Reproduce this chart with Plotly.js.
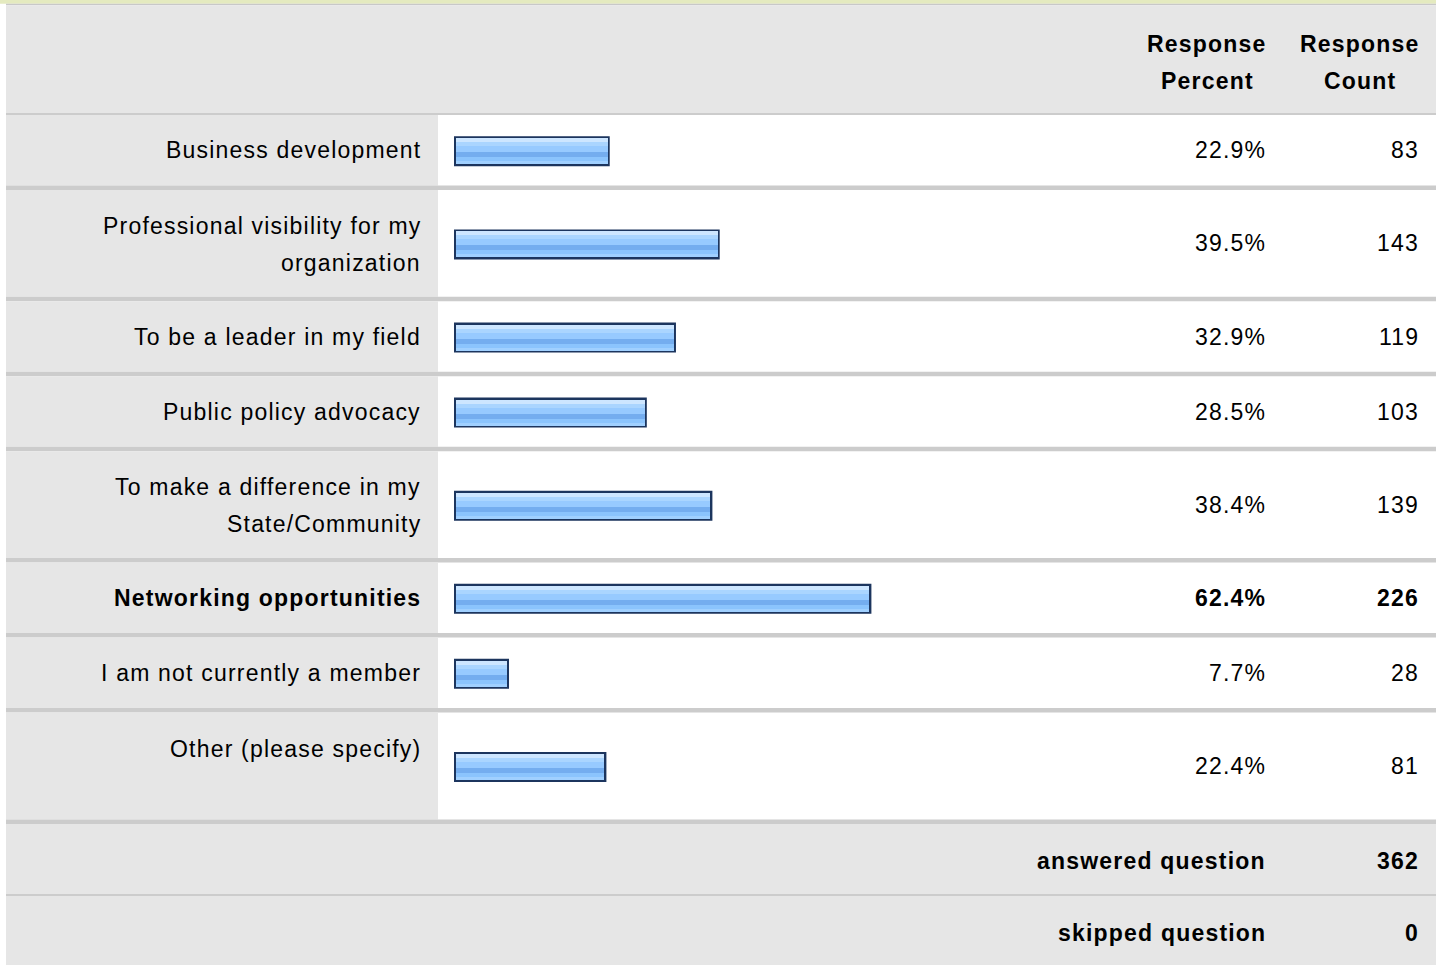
<!DOCTYPE html>
<html>
<head>
<meta charset="utf-8">
<script src="https://cdn.plot.ly/plotly-3.0.1.min.js"></script>
<style>
  html, body { margin: 0; padding: 0; background: #ffffff; }
  #chart { width: 1442px; height: 965px; }
  .annotation-text { letter-spacing: 1.2px; }
</style>
</head>
<body>
<div id="chart"></div>
<script>
// Survey answers: one row per choice
const answerLabels = [
  "Business development",
  "Professional visibility for my<br>organization",
  "To be a leader in my field",
  "Public policy advocacy",
  "To make a difference in my<br>State/Community",
  "Networking opportunities",
  "I am not currently a member",
  "Other (please specify)"
];
const responsePercent = [22.9, 39.5, 32.9, 28.5, 38.4, 62.4, 7.7, 22.4];
const responseCount = [83, 143, 119, 103, 139, 226, 28, 81];
const answeredQuestion = 362;
const skippedQuestion = 0;
const columnHeaders = [["Response", "Percent"], ["Response", "Count"]];
const footerLabels = ["answered question", "skipped question"];

// ---- table geometry (page pixels) ----
const W = 1442, H = 965;
const TABLE_L = 6, TABLE_R = 1436, LABEL_R = 438;
const rowSpan = [1, 2, 1, 1, 2, 1, 1, 2];     // rows that are two text lines tall
const ONE_LINE = 70.5, TWO_LINE = 106.8, SEP = 4.5, LINE_GAP = 37;
const BODY_TOP = 115;
const PCT_RIGHT = 1267, COUNT_RIGHT = 1420, LABEL_RIGHT = 422;
const PCT_CENTER = 1207, COUNT_CENTER = 1360;
const BAR_ZERO_PX = 456, PX_PER_PCT = 6.625, BAR_H = 26;

const GRAY = "#e6e6e6", RULE = "#cccccc", INK = "#000000";
const FONT = '"Liberation Sans", Arial, Helvetica, sans-serif';
const FONT_SIZE = 23;

const shapes = [];
const annotations = [];

function rect(x0, x1, y0, y1, color) {
  shapes.push({type: "rect", xref: "x2", yref: "y", x0, x1, y0, y1,
               fillcolor: color, line: {width: 0}, layer: "below"});
}
function label(x, y, text, anchor, bold) {
  annotations.push({xref: "x2", yref: "y", x, y, text, showarrow: false,
    xanchor: anchor, yanchor: "middle", borderpad: 0,
    font: {family: FONT, size: FONT_SIZE, color: INK, weight: bold ? "bold" : "normal"}});
}

// top accent strip and header block
rect(0, TABLE_R, 0, 3.7, "#e4eabf");
rect(TABLE_L, TABLE_R, 3.7, 5.3, "#c8c8c8");
rect(TABLE_L, TABLE_R, 5.3, 113, GRAY);
rect(TABLE_L, TABLE_R, 113, BODY_TOP, RULE);
columnHeaders.forEach((lines, c) => {
  const cx = c === 0 ? PCT_CENTER : COUNT_CENTER;
  lines.forEach((ln, k) => label(cx, 44 + k * LINE_GAP, ln, "center", true));
});

// body rows
const maxCount = Math.max(...responseCount);
const barCenters = [];
let rowTop = BODY_TOP;
answerLabels.forEach((lab, i) => {
  const h = rowSpan[i] === 2 ? TWO_LINE : ONE_LINE;
  const mid = rowTop + h / 2;
  rect(TABLE_L, LABEL_R, rowTop, rowTop + h, GRAY);
  rect(TABLE_L, TABLE_R, rowTop + h, rowTop + h + SEP, RULE);
  const bold = responseCount[i] === maxCount;
  const lines = lab.split("<br>");
  const first = rowSpan[i] === 2 ? rowTop + 36 : mid;
  lines.forEach((ln, k) => label(LABEL_RIGHT, first + k * LINE_GAP, ln, "right", bold));
  label(PCT_RIGHT, mid, responsePercent[i].toFixed(1) + "%", "right", bold);
  label(COUNT_RIGHT, mid, String(responseCount[i]), "right", bold);
  barCenters.push(mid + 1);
  rowTop += h + SEP;
});

// footer rows
const footerValues = [answeredQuestion, skippedQuestion];
const footerH = [70, 69];
footerLabels.forEach((lab, i) => {
  const h = footerH[i];
  rect(TABLE_L, TABLE_R, rowTop, rowTop + h, GRAY);
  label(PCT_RIGHT, rowTop + 37, lab, "right", true);
  label(COUNT_RIGHT, rowTop + 37, String(footerValues[i]), "right", true);
  rowTop += h;
  if (i === 0) { rect(TABLE_L, TABLE_R, rowTop, rowTop + 2, RULE); rowTop += 2; }
});

// ---- bars ----
// dark frame first: a 4px line centred on the bar edge, whose inner half
// is then covered by the glossy fill so only a 2px outer border remains
const traces = [{
  type: "bar", orientation: "h",
  x: responsePercent, y: barCenters,
  width: BAR_H, offset: -BAR_H / 2,
  marker: {color: "#1c355e", line: {color: "#1c355e", width: 4}},
  hoverinfo: "skip", showlegend: false
}];
// glossy blue fill built from horizontal bands
const bands = [            // [from, to] px below the top of the fill, colour
  [0, 26, "#97caff"],
  [0, 4, "#cde6ff"],
  [4, 8, "#aad5ff"],
  [14, 19, "#74adef"],
  [19, 23, "#8bc4fd"],
  [23, 26, "#a0d0ff"]
];
bands.forEach(([a, b, col]) => traces.push({
  type: "bar", orientation: "h",
  x: responsePercent, y: barCenters,
  width: b - a, offset: -BAR_H / 2 + a,
  marker: {color: col, line: {width: 0}},
  hoverinfo: "skip", showlegend: false
}));

const layout = {
  width: W, height: H,
  margin: {l: 0, r: 0, t: 0, b: 0, pad: 0},
  paper_bgcolor: "#ffffff", plot_bgcolor: "rgba(0,0,0,0)",
  barmode: "overlay", bargap: 0,
  showlegend: false,
  xaxis: {range: [-BAR_ZERO_PX / PX_PER_PCT, (W - BAR_ZERO_PX) / PX_PER_PCT],
          visible: false, fixedrange: true, domain: [0, 1]},
  xaxis2: {range: [0, W], overlaying: "x", anchor: "y", visible: false,
           fixedrange: true, domain: [0, 1]},
  yaxis: {range: [H, 0], visible: false, fixedrange: true, domain: [0, 1]},
  shapes, annotations
};

Plotly.newPlot("chart", traces, layout, {displayModeBar: false, staticPlot: true});
</script>
</body>
</html>
